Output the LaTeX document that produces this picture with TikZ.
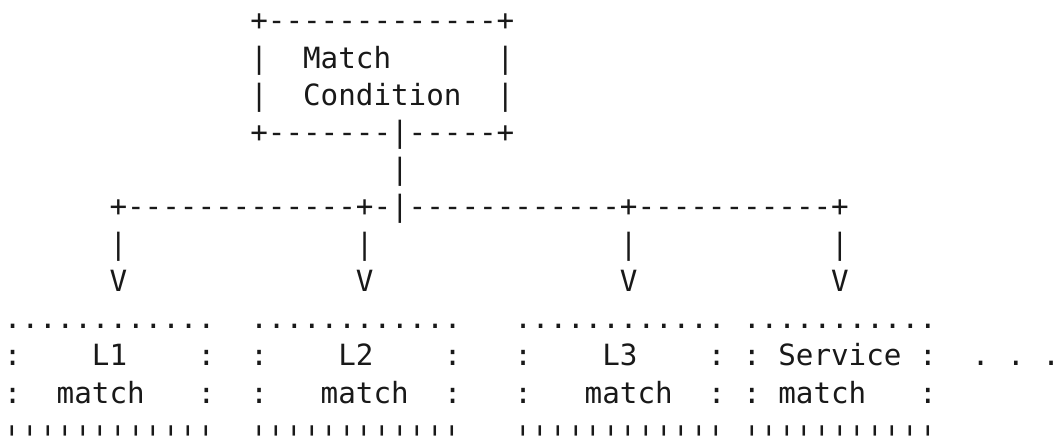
\documentclass[tikz,border=0pt]{standalone}
\usepackage{graphicx}
\usepackage{fontspec}
\setmonofont{DejaVu Sans Mono}
\newlength\cw \setlength\cw{17.6pt}
\newlength\lp \setlength\lp{37.2pt}
\newcounter{tk}
\tikzset{asc/.style={inner sep=0pt, outer sep=0pt, anchor=base west,
  font=\ttfamily\fontsize{29.24pt}{30pt}\selectfont, text=black!90}}
\newcommand\tx[3]{\stepcounter{tk}\node[asc] (t\arabic{tk}) at ({3.9pt+#1\cw},{-31pt-#2\lp}) {#3};}
% bottom row of tick marks, drawn a little lower and taller, kept inside the page box
\newcommand\qt[2]{\stepcounter{tk}\node[asc] (t\arabic{tk}) at ({3.9pt+#1\cw},-436pt) {\smash{\raisebox{-17pt}{\scalebox{1}[1.3]{#2}}}};}
\begin{document}
\begin{tikzpicture}
\useasboundingbox (0,0) rectangle (1064pt,-438pt);
\tx{14}{0}{+-------------+}
\tx{14}{1}{|}\tx{17}{1}{Match}\tx{28}{1}{|}
\tx{14}{2}{|}\tx{17}{2}{Condition}\tx{28}{2}{|}
\tx{14}{3}{+-------|-----+}
\tx{22}{4}{|}
\tx{6}{5}{+-------------+-|------------+-----------+}
\tx{6}{6}{|}\tx{20}{6}{|}\tx{35}{6}{|}\tx{47}{6}{|}
\tx{6}{7}{V}\tx{20}{7}{V}\tx{35}{7}{V}\tx{47}{7}{V}
\tx{0}{8}{............}\tx{14}{8}{............}\tx{29}{8}{............}\tx{42}{8}{...........}
\tx{0}{9}{:}\tx{5}{9}{L1}\tx{11}{9}{:}
\tx{14}{9}{:}\tx{19}{9}{L2}\tx{25}{9}{:}
\tx{29}{9}{:}\tx{34}{9}{L3}\tx{40}{9}{:}
\tx{42}{9}{:}\tx{44}{9}{Service}\tx{52}{9}{:}
\tx{55}{9}{.}\tx{57}{9}{.}\tx{59}{9}{.}
\tx{0}{10}{:}\tx{3}{10}{match}\tx{11}{10}{:}
\tx{14}{10}{:}\tx{18}{10}{match}\tx{25}{10}{:}
\tx{29}{10}{:}\tx{33}{10}{match}\tx{40}{10}{:}
\tx{42}{10}{:}\tx{44}{10}{match}\tx{52}{10}{:}
\qt{0}{''''''''''''}\qt{14}{''''''''''''}\qt{29}{''''''''''''}\qt{42}{'''''''''''}
\end{tikzpicture}
\end{document}
